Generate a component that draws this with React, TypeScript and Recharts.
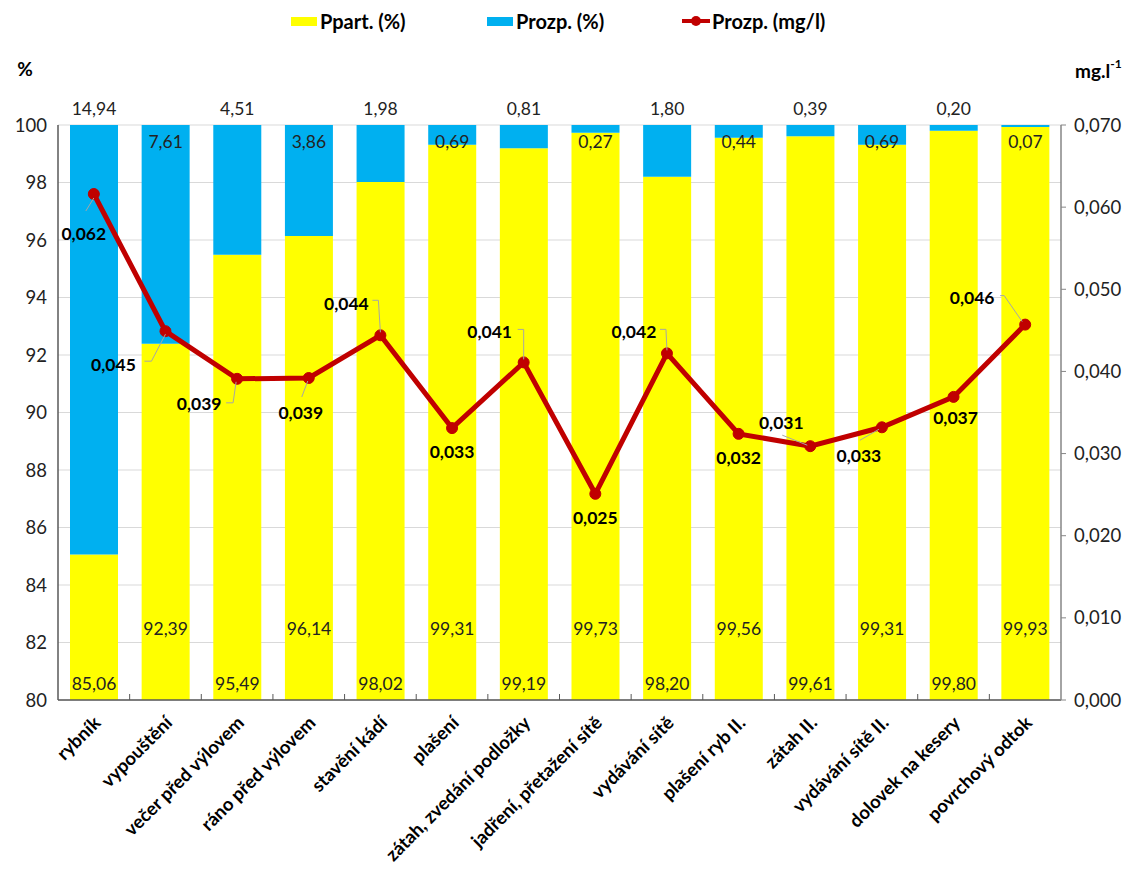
import React from 'react';
import { ComposedChart, Bar, Line, XAxis, YAxis, CartesianGrid, LabelList, Legend } from 'recharts';

const categories = [
  'rybník', 'vypouštění', 'večer před výlovem', 'ráno před výlovem', 'stavění kádí', 'plašení',
  'zátah, zvedání podložky', 'jadření, přetažení sítě', 'vydávání sítě', 'plašení ryb II.',
  'zátah II.', 'vydávání sítě II.', 'dolovek na kesery', 'povrchový odtok',
];
const ppartPct = [85.06, 92.39, 95.49, 96.14, 98.02, 99.31, 99.19, 99.73, 98.2, 99.56, 99.61, 99.31, 99.8, 99.93];
const prozpPct = [14.94, 7.61, 4.51, 3.86, 1.98, 0.69, 0.81, 0.27, 1.8, 0.44, 0.39, 0.69, 0.2, 0.07];
const prozpMg = [0.0616, 0.0449, 0.0391, 0.0392, 0.0444, 0.0331, 0.0411, 0.0251, 0.0422, 0.0324, 0.0309, 0.0332, 0.0369, 0.0457];
const leftTicks = [80, 82, 84, 86, 88, 90, 92, 94, 96, 98, 100];
const rightTicks = [0, 0.01, 0.02, 0.03, 0.04, 0.05, 0.06, 0.07];

const data = categories.map((name, i) => ({
  name,
  ppart: ppartPct[i],
  prozp: prozpPct[i],
  mg: prozpMg[i],
}));

const FONT = 'Lato, "Open Sans", sans-serif';
const YELLOW = '#FFFF00';
const BLUE = '#00B0F0';
const RED = '#C00000';
const W = 1120;
const H = 862;
const MARGIN = { top: 117, right: 7, left: 0, bottom: 0 };
const X_AXIS_H = 170;
const PLOT_BOTTOM = H - MARGIN.bottom - X_AXIS_H;

// label placement (styling) for line labels: offset of text centre from point, and leader polyline
const LINE_LABEL_POS: { dx: number; dy: number; leader?: number[][] }[] = [
  { dx: -10, dy: 39, leader: [[0, 4], [-8, 17]] },
  { dx: -52, dy: 33, leader: [[0, 3], [-14, 30], [-21, 30]] },
  { dx: -38, dy: 25, leader: [[-1, 3], [-4, 24], [-11, 24]] },
  { dx: -8, dy: 34, leader: [[-1, 3], [-7, 19]] },
  { dx: -34, dy: -32, leader: [[0, -3], [-2, -35], [-8, -35]] },
  { dx: 0, dy: 23 },
  { dx: -34, dy: -31, leader: [[0, -3], [0, -33], [-6, -33]] },
  { dx: 0, dy: 24 },
  { dx: -33, dy: -22, leader: [[0, -3], [-1, -24], [-7, -24]] },
  { dx: 0, dy: 24 },
  { dx: -29, dy: -24, leader: [[-3, -1], [-28, -11]] },
  { dx: -23, dy: 28, leader: [[-3, 2], [-22, 13]] },
  { dx: 2, dy: 21 },
  { dx: -53, dy: -27, leader: [[-3, -3], [-21, -29], [-25, -29]] },
];

const fmt2 = (v: number) => v.toFixed(2).replace('.', ',');
const fmt3 = (v: number) => v.toFixed(3).replace('.', ',');

const PpartLabel = (props: any) => {
  const { x, width, index } = props;
  const cy = index % 2 === 0 ? PLOT_BOTTOM - 17 : PLOT_BOTTOM - 72;
  return (
    <text x={x + width / 2} y={cy} textAnchor="middle" dominantBaseline="central"
      fontFamily={FONT} fontSize={17.5} fill="#222">
      {fmt2(ppartPct[index])}
    </text>
  );
};

const ProzpLabel = (props: any) => {
  const { x, y, width, index } = props;
  const cy = index % 2 === 0 ? y - 17 : y + 16;
  return (
    <text x={x + width / 2} y={cy} textAnchor="middle" dominantBaseline="central"
      fontFamily={FONT} fontSize={17.5} fill="#222">
      {fmt2(prozpPct[index])}
    </text>
  );
};

const LineLabel = (props: any) => {
  const { x, y, index } = props;
  const pos = LINE_LABEL_POS[index];
  const pts = pos.leader ? pos.leader.map(([a, b]) => `${x + a},${y + b}`).join(' ') : null;
  return (
    <g>
      {pts && <polyline points={pts} fill="none" stroke="#a6a6a6" strokeWidth={1} />}
      <text x={x + pos.dx} y={y + pos.dy} textAnchor="middle" dominantBaseline="central"
        fontFamily={FONT} fontSize={17.5} fontWeight="bold" fill="#000">
        {fmt3(prozpMg[index])}
      </text>
    </g>
  );
};

const XTick = (props: any) => {
  const { x, y, payload } = props;
  const half = payload && payload.offset ? payload.offset : 35.8;
  const axisY = y - 8;
  const ax = x + 8;
  const ay = y + 16;
  return (
    <g>
      {payload.index > 0 && (
        <line x1={x - half} y1={axisY} x2={x - half} y2={axisY - 6} stroke="#595959" strokeWidth={1} />
      )}
      <text x={ax} y={ay} transform={`rotate(-45, ${ax}, ${ay})`} textAnchor="end"
        fontFamily={FONT} fontSize={18.5} fontWeight="bold" fill="#000">
        {payload.value}
      </text>
    </g>
  );
};

const LegendContent = () => (
  <div style={{ position: 'relative', height: 30, fontFamily: FONT, fontSize: 20, fontWeight: 'bold', color: '#000' }}>
    <div style={{ position: 'absolute', left: 283, top: 0, height: 26, display: 'flex', alignItems: 'center' }}>
      <span style={{ width: 26, height: 9, background: YELLOW, display: 'inline-block', marginRight: 3 }} />
      <span>Ppart. (%)</span>
    </div>
    <div style={{ position: 'absolute', left: 479, top: 0, height: 26, display: 'flex', alignItems: 'center' }}>
      <span style={{ width: 26, height: 9, background: BLUE, display: 'inline-block', marginRight: 3 }} />
      <span>Prozp. (%)</span>
    </div>
    <div style={{ position: 'absolute', left: 674, top: 0, height: 26, display: 'flex', alignItems: 'center' }}>
      <svg width={28} height={12} style={{ marginRight: 2 }}>
        <line x1={0} y1={6} x2={28} y2={6} stroke={RED} strokeWidth={4} />
        <circle cx={14} cy={6} r={5} fill={RED} />
      </svg>
      <span>Prozp. (mg/l)</span>
    </div>
  </div>
);

export default function App() {
  return (
    <div style={{ width: W, height: H, position: 'relative' }}>
      <ComposedChart width={W} height={H} data={data} margin={MARGIN}>
        <CartesianGrid yAxisId="left" vertical={false} stroke="#d9d9d9" strokeWidth={1} />
        <XAxis dataKey="name" height={X_AXIS_H} interval={0} tick={<XTick />} tickLine={false}
          axisLine={{ stroke: '#595959', strokeWidth: 1.5 }} />
        <YAxis yAxisId="left" orientation="left" domain={[80, 100]} ticks={leftTicks} allowDataOverflow
          width={50} tickLine={false} tickSize={0} tickMargin={11}
          axisLine={{ stroke: '#595959', strokeWidth: 1.5 }}
          tick={{ fontFamily: FONT, fontSize: 18.5, fill: '#222' }}
          label={{
            content: (p: any) => (
              <text x={p.viewBox.x + 17} y={p.viewBox.y - 57} textAnchor="middle" dominantBaseline="central"
                fontFamily={FONT} fontSize={19} fontWeight="bold" fill="#000">%</text>
            ),
          }} />
        <YAxis yAxisId="right" orientation="right" domain={[0, 0.07]} ticks={rightTicks}
          width={60} tickSize={5} tickMargin={8} tickFormatter={fmt3}
          axisLine={{ stroke: '#868686', strokeWidth: 1.5 }} tickLine={{ stroke: '#868686' }}
          tick={{ fontFamily: FONT, fontSize: 18.5, fill: '#222', textAnchor: 'start' }}
          label={{
            content: (p: any) => (
              <text x={p.viewBox.x + 14} y={p.viewBox.y - 55} textAnchor="start" dominantBaseline="central"
                fontFamily={FONT} fontSize={19} fontWeight="bold" fill="#000">
                mg.l<tspan dy={-7} fontSize={12}>-1</tspan>
              </text>
            ),
          }} />
        <Legend layout="horizontal" verticalAlign="middle" align="center"
          wrapperStyle={{ top: 0, left: 0, width: W, height: 30 }} content={<LegendContent />} />
        <Bar yAxisId="left" dataKey="ppart" name="Ppart. (%)" stackId="a" fill={YELLOW} barSize={48} isAnimationActive={false}>
          <LabelList dataKey="ppart" content={<PpartLabel />} />
        </Bar>
        <Bar yAxisId="left" dataKey="prozp" name="Prozp. (%)" stackId="a" fill={BLUE} barSize={48} isAnimationActive={false}>
          <LabelList dataKey="prozp" content={<ProzpLabel />} />
        </Bar>
        <Line yAxisId="right" dataKey="mg" name="Prozp. (mg/l)" stroke={RED} strokeWidth={5}
          dot={{ r: 5.5, fill: RED, stroke: RED, strokeWidth: 1 }} isAnimationActive={false}>
          <LabelList dataKey="mg" content={<LineLabel />} />
        </Line>
      </ComposedChart>
    </div>
  );
}
